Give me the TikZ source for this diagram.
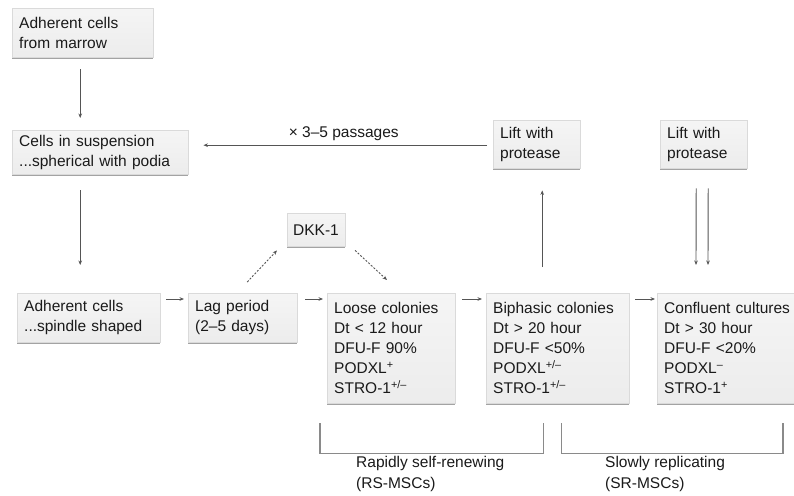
\documentclass[tikz,border=0pt]{standalone}
\usepackage{fontspec}
\setmainfont{Liberation Sans}
\usetikzlibrary{arrows.meta,shadows}
\definecolor{boxfill}{HTML}{EEEEEE}
\definecolor{boxline}{HTML}{DADADA}
\definecolor{txt}{HTML}{1A1A1A}
\definecolor{arrc}{HTML}{555555}
\definecolor{brc}{HTML}{8A8A8A}
\begin{document}
\begin{tikzpicture}[x=1pt,y=-1pt,
  box/.style={anchor=north west, draw=boxline, line width=0.4pt,
    top color=boxfill!60, bottom color=boxfill!100!gray!110, 
    inner xsep=7pt, inner ysep=0pt, align=left, text=txt,
    font=\fontsize{15.5}{20}\selectfont,
    drop shadow={shadow xshift=0pt, shadow yshift=-1.6pt, fill=gray!80, opacity=0.9}},
  arr/.style={draw=arrc, line width=0.9pt, -{Stealth[length=4.5pt,width=3.6pt]}},
  darr/.style={arr, dash pattern=on 2pt off 1.6pt},
  brk/.style={draw=brc, line width=1.1pt},
  lbl/.style={text=txt, font=\fontsize{15.5}{21}\selectfont, align=left, inner sep=0pt}
]
\useasboundingbox[fill=white] (0,0) rectangle (794,495);

\node[box, minimum width=141pt, minimum height=49pt, text width=127pt] (m1) at (12,8) {Adherent cells\\from marrow};
\node[box, minimum width=176pt, minimum height=44pt, text width=162pt] (m2) at (12,130) {Cells in suspension\\...spherical with podia};
\node[box, minimum width=143pt, minimum height=49pt, text width=129pt] (a1) at (17,293) {Adherent cells\\...spindle shaped};
\node[box, minimum width=109pt, minimum height=49pt, text width=95pt] (lag) at (188,293) {Lag period\\(2–5 days)};
\node[box, minimum width=128pt, minimum height=110pt, text width=114pt] (loose) at (327,293) {Loose colonies\\Dt < 12 hour\\DFU-F 90\%\\PODXL\textsuperscript{+}\\STRO-1\textsuperscript{+/–}};
\node[box, minimum width=143pt, minimum height=110pt, text width=129pt] (bi) at (486,293) {Biphasic colonies\\Dt > 20 hour\\DFU-F <50\%\\PODXL\textsuperscript{+/–}\\STRO-1\textsuperscript{+/–}};
\node[box, minimum width=160pt, minimum height=110pt, text width=146pt] (conf) at (657,293) {Confluent cultures\\Dt > 30 hour\\DFU-F <20\%\\PODXL\textsuperscript{–}\\STRO-1\textsuperscript{+}};
\node[box, minimum width=53pt, minimum height=33pt, inner xsep=6pt] (dkk) at (287,213) {DKK-1};
\node[box, minimum width=87pt, minimum height=48pt, text width=73pt] (lift1) at (493,120) {Lift with\\protease};
\node[box, minimum width=87pt, minimum height=48pt, text width=73pt] (lift2) at (660,120) {Lift with\\protease};

% vertical arrows on the left
\draw[arr] ([xshift=-2.5pt,yshift=-12pt]m1.south) -- ([xshift=-20pt,yshift=12pt]m2.north);
\draw[arr] ([xshift=-20pt,yshift=-16pt]m2.south) -- ([xshift=-8.5pt,yshift=28pt]a1.north);

% horizontal arrows
\draw[arr] ([xshift=6pt,yshift=-6pt]a1.north east) -- ([xshift=-4pt,yshift=-6pt]lag.north west);
\draw[arr] ([xshift=8pt,yshift=-6pt]lag.north east) -- ([xshift=-4pt,yshift=-6pt]loose.north west);
\draw[arr] ([xshift=7pt,yshift=-6pt]loose.north east) -- ([xshift=-4pt,yshift=-6pt]bi.north west);
\draw[arr] ([xshift=6pt,yshift=-6pt]bi.north east) -- ([xshift=-2pt,yshift=-6pt]conf.north west);

% dashed arrows via DKK-1
\draw[darr] ([xshift=4.5pt,yshift=11pt]lag.north) -- ([xshift=-10pt,yshift=-4pt]dkk.south west);
\draw[darr] ([xshift=10pt,yshift=-4pt]dkk.south east) -- ([xshift=60pt,yshift=13pt]loose.north west);

% up to lift 1, down from lift 2
\draw[arr] ([xshift=-15.5pt,yshift=26pt]bi.north) -- ([xshift=5.5pt,yshift=-22pt]lift1.south);
\draw[arr] ([xshift=-7.5pt,yshift=-20pt]lift2.south) -- ([xshift=39pt,yshift=28pt]conf.north west);
\draw[arr] ([xshift=4.5pt,yshift=-20pt]lift2.south) -- ([xshift=51pt,yshift=28pt]conf.north west);

% passages
\draw[arr] ([xshift=-6pt,yshift=-1pt]lift1.west) -- coordinate[pos=0.505] (pmid) ([xshift=15pt,yshift=7pt]m2.east);
\node[lbl, anchor=south] (pass) at ([xshift=0pt,yshift=4pt]pmid) {× 3–5 passages};

% brackets
\draw[brk] ([xshift=-7pt,yshift=-20pt]loose.south west) -- ++(0,30) -| ([xshift=-86pt,yshift=-20pt]bi.south east);
\draw[brk] ([xshift=3.5pt,yshift=-20pt]bi.south) -- ++(0,30) -| ([xshift=126pt,yshift=-20pt]conf.south west);

\node[lbl, anchor=north west] (rs) at (356,456) {Rapidly self-renewing\\(RS-MSCs)};
\node[lbl, anchor=north west] (sr) at (605,456) {Slowly replicating\\(SR-MSCs)};
\end{tikzpicture}
\end{document}
